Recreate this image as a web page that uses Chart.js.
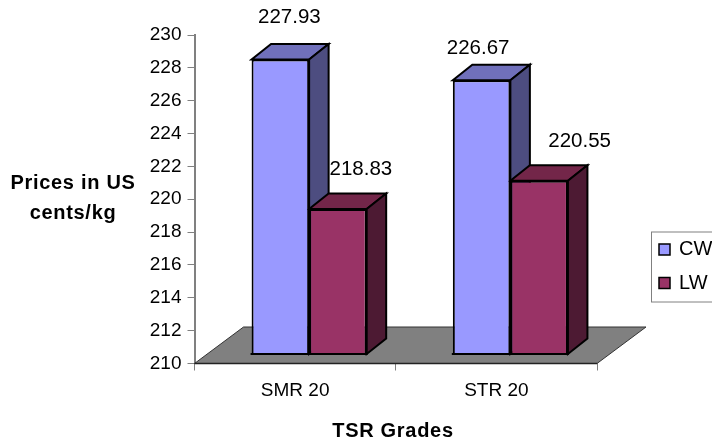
<!DOCTYPE html>
<html><head><meta charset="utf-8">
<style>html,body{margin:0;padding:0;background:#fff;overflow:hidden}#w{width:712px;height:446px;position:relative}</style>
<script src="https://cdn.jsdelivr.net/npm/chart.js@4"></script></head>
<body><div id="w"><canvas id="c" width="712" height="446"></canvas></div>
<script>
const categories = ["SMR 20", "STR 20"];
const cwValues = [227.93, 226.67];
const lwValues = [218.83, 220.55];
const seriesNames = ["CW", "LW"];
const yMin = 210, yMax = 230, yStep = 2;
const yTitleLines = ["Prices in US", "cents/kg"];
const xTitle = "TSR Grades";

const FONT = '"Liberation Sans", Arial, sans-serif';
const SHIFT = {x: 14, y: -9.5};
const DEPTH = {x: 19.5, y: -15.5};
const labelOffsets = [[[9,-42],[-3.5,-31.5]],[[23,-40],[40.5,-39]]];
const faces = {
  CW: {front:"#9999ff", top:"#7070bb", side:"#4d4d80"},
  LW: {front:"#993366", top:"#732649", side:"#4d1a33"}
};

const threeD = {
  id: "threeD",
  beforeDatasetsDraw(chart){
    const {ctx, chartArea:a} = chart;
    ctx.save();
    ctx.beginPath();
    ctx.moveTo(a.left, a.bottom);
    ctx.lineTo(a.left + 49, a.bottom - 36.5);
    ctx.lineTo(a.right + 49, a.bottom - 36.5);
    ctx.lineTo(a.right, a.bottom);
    ctx.closePath();
    ctx.fillStyle = "#808080"; ctx.fill();
    ctx.strokeStyle = "#333"; ctx.lineWidth = 1; ctx.stroke();
    ctx.beginPath(); ctx.moveTo(a.left,a.bottom); ctx.lineTo(a.right,a.bottom);
    ctx.strokeStyle="#222"; ctx.lineWidth=1.5; ctx.stroke();
    ctx.translate(SHIFT.x, SHIFT.y);
    ctx.lineWidth = 2; ctx.strokeStyle = "#000"; ctx.lineJoin = "miter";
    const poly = (pts,fill)=>{ctx.beginPath();pts.forEach((q,i)=>i?ctx.lineTo(q[0],q[1]):ctx.moveTo(q[0],q[1]));ctx.closePath();ctx.fillStyle=fill;ctx.fill();ctx.stroke();};
    chart.data.datasets.forEach((ds,di)=>{
      const f = faces[ds.label];
      chart.getDatasetMeta(di).data.forEach(b=>{
        const l = b.x-b.width/2, r = b.x+b.width/2, t = b.y, bt = a.bottom;
        poly([[l,t],[r,t],[r+DEPTH.x,t+DEPTH.y],[l+DEPTH.x,t+DEPTH.y]], f.top);
        poly([[r,t],[r+DEPTH.x,t+DEPTH.y],[r+DEPTH.x,bt+DEPTH.y],[r,bt]], f.side);
      });
    });
    ctx.restore();
  },
  beforeDatasetDraw(chart){
    chart.ctx.save();
    chart.ctx.translate(SHIFT.x, SHIFT.y);
  },
  afterDatasetDraw(chart, args){
    const ctx = chart.ctx, a = chart.chartArea;
    ctx.lineWidth = 2; ctx.strokeStyle = "#000";
    args.meta.data.forEach(b=>{
      ctx.beginPath(); ctx.moveTo(b.x-b.width/2-1,a.bottom); ctx.lineTo(b.x+b.width/2+1,a.bottom); ctx.stroke();
    });
    ctx.restore();
  },
  afterDatasetsDraw(chart){
    const ctx = chart.ctx;
    ctx.save();
    ctx.fillStyle = "#000";
    ctx.textAlign = "center"; ctx.textBaseline = "middle";
    ctx.font = "20.5px "+FONT;
    chart.data.datasets.forEach((ds,di)=>{
      chart.getDatasetMeta(di).data.forEach((b,i)=>{
        const o = labelOffsets[di][i];
        ctx.fillText(ds.data[i].toFixed(2), b.x+SHIFT.x+o[0], b.y+SHIFT.y+o[1]);
      });
    });
    ctx.font = "bold 20px "+FONT;
    ctx.letterSpacing = "0.7px";
    yTitleLines.forEach((s,i)=>ctx.fillText(s, 73, 183+i*30));
    ctx.fillText(xTitle, 393, 431.5);
    ctx.letterSpacing = "0px";
    ctx.fillStyle="#fff"; ctx.strokeStyle="#808080"; ctx.lineWidth=1;
    ctx.fillRect(651.5,232,70,70); ctx.strokeRect(651.5,232,70,70);
    ctx.textAlign="left";
    chart.data.datasets.forEach((ds,di)=>{
      const y = 249.5+di*33.5;
      ctx.fillStyle = ds.backgroundColor; ctx.strokeStyle="#000"; ctx.lineWidth=1.5;
      ctx.fillRect(659,y-5.5,11,11); ctx.strokeRect(659,y-5.5,11,11);
      ctx.fillStyle="#000"; ctx.font="20px "+FONT;
      ctx.fillText(ds.label, 679, y);
    });
    ctx.restore();
  }
};

new Chart(document.getElementById("c"), {
  type: "bar",
  data: {
    labels: categories,
    datasets: [
      {label: seriesNames[0], data: cwValues, backgroundColor: faces.CW.front, borderColor:"#000", borderWidth:2, borderSkipped:false},
      {label: seriesNames[1], data: lwValues, backgroundColor: faces.LW.front, borderColor:"#000", borderWidth:2, borderSkipped:false}
    ]
  },
  options: {
    responsive:false, animation:false, devicePixelRatio:1,
    layout:{padding:{left:0,right:115,top:35,bottom:0}},
    plugins:{legend:{display:false},tooltip:{enabled:false}},
    datasets:{bar:{categoryPercentage:0.572,barPercentage:1}},
    scales:{
      x:{
        afterFit(s){s.height=82.5;},
        grid:{drawOnChartArea:false,color:"#808080",tickLength:7,offset:true},
        border:{color:"#808080"},
        ticks:{color:"#000",font:{family:FONT,size:19},padding:9,maxRotation:0}
      },
      y:{
        min:yMin,max:yMax,
        afterFit(s){s.width=194.5;},
        grid:{drawOnChartArea:false,color:"#808080",tickLength:7},
        border:{color:"#808080",width:2},
        ticks:{stepSize:yStep,color:"#000",font:{family:FONT,size:19},padding:6}
      }
    }
  },
  plugins:[threeD]
});
</script></body></html>
